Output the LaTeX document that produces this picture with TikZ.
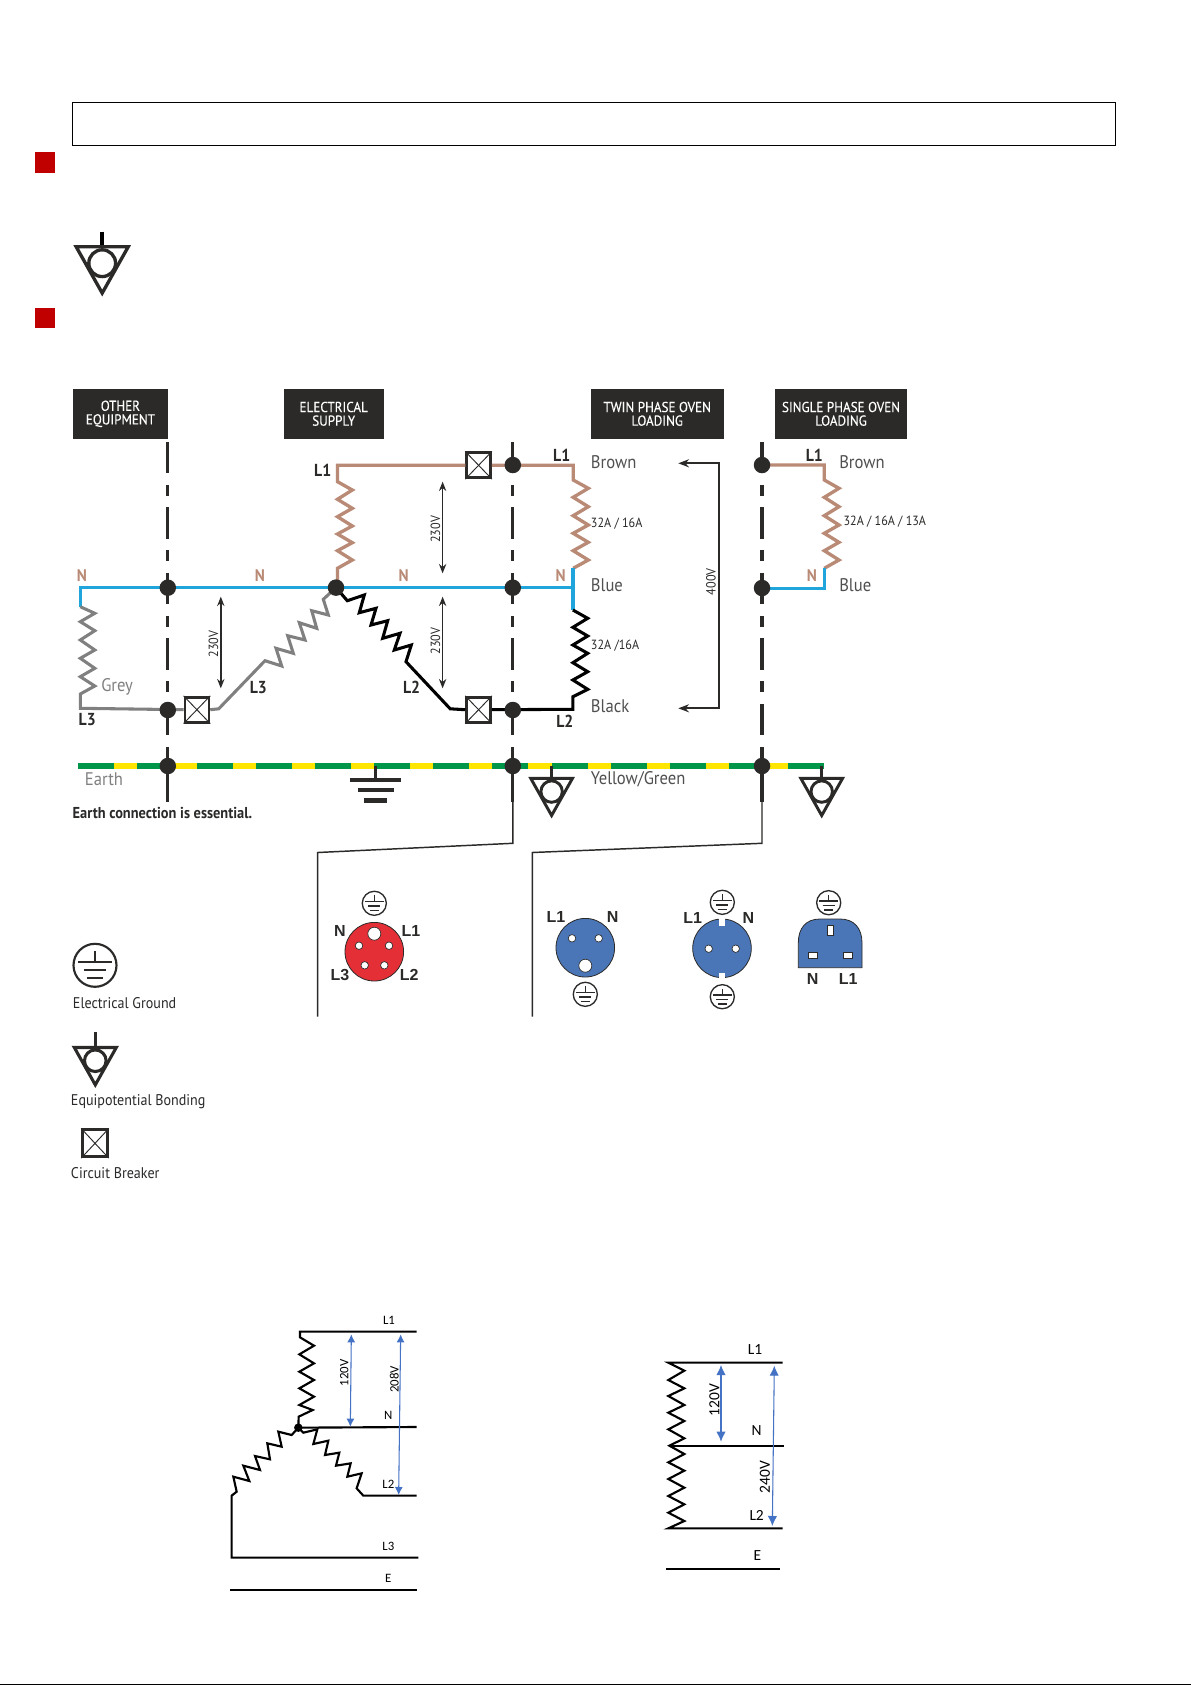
\documentclass[tikz,border=0pt]{standalone}
\usepackage{fontspec}
\usetikzlibrary{arrows.meta}
\setmainfont[FakeStretch=0.91]{PT Sans}
\newfontfamily\hdrf[FakeStretch=0.91,FakeBold=0.25]{PT Sans}
\newfontfamily\arialf{Liberation Sans}
\newfontfamily\calibf{Carlito}
\definecolor{dk}{HTML}{2B2A29}
\definecolor{wbrown}{HTML}{B98A75}
\definecolor{wblue}{HTML}{1FA5DC}
\definecolor{wgrey}{HTML}{808080}
\definecolor{wgreen}{HTML}{00964A}
\definecolor{wyellow}{HTML}{FFE600}
\definecolor{redsq}{HTML}{C00000}
\definecolor{socred}{HTML}{E52F37}
\definecolor{socblue}{HTML}{4A76B8}
\definecolor{arrblue}{HTML}{4472C4}
\definecolor{txtgrey}{HTML}{505050}
\def\u{0.75pt}
\newcommand{\fs}[1]{\fontsize{#1}{#1}\selectfont}
\tikzset{
  wire/.style={line width=2.5pt,line join=miter},
  zig/.style={line width=2.3pt,line join=miter},
  vdash/.style={line width=2.4pt,dk,dash pattern=on 23.4pt off 8.8pt on 8.3pt off 8.6pt},
  junction/.style={circle,fill=dk,inner sep=0pt,minimum size=16.5*\u},
  breakerbox/.style={draw=dk,fill=white,line width=2pt,inner sep=0pt,minimum width=24*\u,minimum height=25*\u},
  hdr/.style={fill=dk,text=white,inner sep=0pt,minimum width=#1*\u,minimum height=49.7*\u,align=center,font=\hdrf\fs{10.8},execute at begin node={\baselineskip=10.2pt}},
  lbl/.style={inner sep=0pt,dk,font=\fs{13}\bfseries},
  nlbl/.style={inner sep=0pt,wbrown,font=\fs{12.6}\bfseries},
  colr/.style={inner sep=0pt,txtgrey,anchor=west,font=\fs{13.7}},
  amp/.style={inner sep=0pt,dk,anchor=west,font=\fs{10}},
  volt/.style={inner sep=0pt,dk,rotate=90,font=\fs{10}},
  dbl/.style={dk,line width=1.1pt,{Stealth[length=7pt,width=5.5pt]}-{Stealth[length=7pt,width=5.5pt]}},
  thinl/.style={dk,line width=1.1pt,line join=miter},
  plug/.style={inner sep=0pt,dk,font=\arialf\fs{12}\bfseries},
  legend/.style={inner sep=0pt,anchor=west,dk,font=\fs{11.6}},
  hole/.style={circle,fill=white,draw=dk,line width=0.5pt,inner sep=0pt},
  slot/.style={fill=white,draw=dk,line width=0.5pt},
  bline/.style={line width=1.6pt,black},
  barrow/.style={arrblue,line width=0.8pt,{Latex[length=6pt,width=6pt]}-{Latex[length=6pt,width=6pt]}},
  ctext/.style={inner sep=0pt,font=\calibf\fs{#1},black},
}
% equipotential symbol: x, top of triangle, scale, line width
\newcommand{\eqsym}[4]{%
  \begin{scope}[shift={(#1,#2)},scale=#3]
    \draw[dk,line width=#4,line join=miter,miter limit=10] (-20,1.4) -- (20,1.4) -- (0,37) -- cycle;
    \draw[dk,line width=#4,fill=white] (0,14) circle (10.3);
  \end{scope}}
% electrical ground symbol in a circle
\newcommand{\gndc}[4]{%
  \begin{scope}[shift={(#1,#2)},scale=#3]
    \draw[dk,line width=#4,fill=white] (0,0) circle (21.5);
    \draw[dk,line width=#4] (0,-14) -- (0,-3);
    \draw[dk,line width=#4] (-16.7,-3) -- (16.7,-3);
    \draw[dk,line width=#4] (-11,4.7) -- (11,4.7);
    \draw[dk,line width=#4] (-8,13) -- (8,13);
  \end{scope}}
\begin{document}
\begin{tikzpicture}[x=0.75pt,y=-0.75pt]
\useasboundingbox (0,0) rectangle (1191,1685);
\fill[white] (0,0) rectangle (1191,1685);
\fill[black] (0,1683.6) rectangle (1191,1685);

% top frame and bullets
\node[draw=black,line width=1pt,minimum width=1043.5*\u,minimum height=43.4*\u,inner sep=0pt] (frame) at (594,124) {};
\fill[redsq] (34.8,152) rectangle (55.1,173);
\fill[redsq] (34.8,308) rectangle (55.1,327.7);
\coordinate (topstem) at (102.2,231.7);
\coordinate (toptri) at (102.2,246);
\draw[black,line width=2.6pt] (topstem) -- (toptri);
\eqsym{102.2}{245}{1.3}{2.5pt}

% headers
\node[hdr=94.5] (hother) at (120.4,413.8) {OTHER\\EQUIPMENT};
\node[hdr=100.2] (helec) at (333.7,413.8) {ELECTRICAL\\SUPPLY};
\node[hdr=133] (htwin) at (657.2,413.8) {TWIN PHASE OVEN\\LOADING};
\node[hdr=132.6] (hsing) at (841,413.8) {SINGLE PHASE OVEN\\LOADING};

% key coordinates
\coordinate (Atop) at (167.8,442);
\coordinate (Amid) at (167.8,748);
\coordinate (Aend) at (167.8,801.7);
\coordinate (Btop) at (512.8,442);
\coordinate (Bmid) at (512.8,748);
\coordinate (Bend) at (512.8,843.3);
\coordinate (Ctop) at (762,442);
\coordinate (Cmid) at (762,748);
\coordinate (Cend) at (762,843.3);
\coordinate (Bthick) at (512.8,801.7);
\coordinate (Cthick) at (762,801.7);
\coordinate (Bk1) at (317.7,852.5);
\coordinate (Bk2) at (317.7,1016.7);
\coordinate (Ck1) at (532.3,852.5);
\coordinate (Ck2) at (532.3,1016.7);

% vertical separators
\draw[vdash] (Atop) -- (Amid);
\draw[vdash] (Btop) -- (Bmid);
\draw[vdash] (Ctop) -- (Cmid);
\draw[dk,line width=2.4pt] (Amid) -- (Aend);
\draw[dk,line width=2.4pt] (Bmid) -- (Bthick);
\draw[dk,line width=2.4pt] (Cmid) -- (Cthick);
\draw[thinl] (Bthick) -- (Bend) -- (Bk1) -- (Bk2);
\draw[thinl] (Cthick) -- (Cend) -- (Ck1) -- (Ck2);

% earth
\coordinate (Estart) at (78.2,766);
\coordinate (Eend) at (824.3,766);
\draw[wyellow,line width=3.8pt] (Estart) -- (Eend);
\draw[wgreen,line width=3.8pt,dash pattern=on 27pt off 17.38pt] (Estart) -- (Eend);

% earth symbols
\coordinate (gs1) at (375.4,766);
\coordinate (gs2) at (375.4,780);
\draw[dk,line width=2.3pt] (gs1) -- (gs2);
\fill[dk] (349.6,777.6) rectangle (401.2,782.4);
\fill[dk] (357.5,787.6) rectangle (393.7,792.4);
\fill[dk] (364.4,798.3) rectangle (386.8,803.1);
\coordinate (es1) at (551.6,766);
\coordinate (es2) at (551.6,780);
\draw[dk,line width=2.2pt] (es1) -- (es2);
\eqsym{551.6}{777}{1.04}{2.2pt}
\coordinate (es3) at (821.7,766);
\coordinate (es4) at (821.7,780);
\draw[dk,line width=2.2pt] (es3) -- (es4);
\eqsym{821.7}{777}{1.04}{2.2pt}

% junction and breaker nodes
\node[breakerbox] (brk3) at (196.9,709.7) {};
\node[breakerbox] (brk1) at (478.6,465.3) {};
\node[breakerbox] (brk2) at (478.6,709.7) {};

\coordinate (star) at (336,587.6);

% brown L1 of supply, through breaker to load
\coordinate (L1a) at (337.5,465.3);
\coordinate (L1b) at (573.2,465.3);
\draw[wbrown,wire] (337.5,588) -- (337.5,568.3) -- (352.3,560) -- (337.5,550.7) -- (352.3,542.7) -- (337.5,534) -- (352.3,526) -- (337.5,516.7) -- (352.3,508.3) -- (337.5,499.3) -- (352.3,490) -- (337.5,481.7) -- (L1a) -- (brk1.west);
\draw[wbrown,wire] (brk1.east) -- (L1b) -- (573.2,480) -- (588.3,488.3) -- (573.2,497.3) -- (588.3,506.7) -- (573.2,515.7) -- (588.3,525) -- (573.2,533.3) -- (588.3,542.3) -- (573.2,550.7) -- (588.3,560) -- (573.2,568.3);

% neutral
\coordinate (Nleft) at (80.3,587.7);
\coordinate (Nright) at (572.9,587.7);
\draw[wblue,wire] (80.3,606.7) -- (Nleft) -- (Nright);
\draw[wblue,wire] (572.9,568.3) -- (572.9,610);

% grey L3
\draw[wgrey,zig] (Nleft |- 0,606.7) -- (94.8,613.3) -- (80.3,621.7) -- (94.8,630.7) -- (80.3,640) -- (94.8,650) -- (80.3,658.3) -- (94.8,668.3) -- (80.3,676.7) -- (94.8,686) -- (80.3,694) -- (80.3,708.3) -- (brk3.west);
\draw[wgrey,zig] (brk3.east) -- (218.7,708.8) -- (265,660.7)
  -- (281.7,666) -- (276,648.3) -- (293.3,653.3) -- (287.7,635.7) -- (305,640) -- (299.3,622.7) -- (316.7,628.3) -- (311.7,610.7) -- (328.3,615) -- (323.3,599.3) -- (star);

% black L2
\draw[black,zig] (star) -- (347.3,600.7) -- (364.3,595) -- (359.3,612.7) -- (376,608.3) -- (371,625) -- (387.7,620.7) -- (382.7,638.3) -- (400,633.3) -- (394.3,650) -- (411.3,645) -- (406,661.7) -- (450.2,708.8) -- (brk2.west);
\draw[black,zig] (brk2.east) -- (572.9,709.3) -- (572.9,696.7) -- (587.7,689.3) -- (572.9,680) -- (587.7,671.7) -- (572.9,662.7) -- (587.7,653.3) -- (572.9,645) -- (587.7,636) -- (572.9,627.3) -- (587.7,618.3) -- (572.9,610);

% breaker crosses
\foreach \b in {brk1,brk2,brk3} {
  \draw[dk,line width=0.7pt] (\b.north west) -- (\b.south east);
  \draw[dk,line width=0.7pt] (\b.north east) -- (\b.south west);
}

% single phase loop
\coordinate (S1) at (824.3,465);
\coordinate (S2) at (824.3,588.3);
\draw[wbrown,wire] (762,465) -- (S1) -- (824.3,480) -- (839,488.3) -- (824.3,497.3) -- (839,506.7) -- (824.3,515.7) -- (839,525) -- (824.3,533.3) -- (839,542.3) -- (824.3,550.7) -- (839,560) -- (824.3,568.3);
\draw[wblue,wire] (824.3,568.3) -- (S2) -- (762,588.3);

% dots
\node[junction] (dA1) at (167.8,587.7) {};
\node[junction] (dA2) at (167.8,710) {};
\node[junction] (dA3) at (167.8,766) {};
\node[junction] (dB0) at (512.8,465) {};
\node[junction] (dB1) at (512.8,587.7) {};
\node[junction] (dB2) at (512.8,710) {};
\node[junction] (dB3) at (512.8,766) {};
\node[junction] (dC0) at (762,465) {};
\node[junction] (dC1) at (762,588) {};
\node[junction] (dC3) at (762,766) {};
\node[junction] (dS) at (star) {};

% voltage arrows
\coordinate (va1) at (442.6,481.7); \coordinate (va2) at (442.6,573.3);
\coordinate (vb1) at (442.6,596.7); \coordinate (vb2) at (442.6,688.3);
\coordinate (vc1) at (220.8,596.7); \coordinate (vc2) at (220.8,688.3);
\draw[dbl] (va1) -- (va2);
\draw[dbl] (vb1) -- (vb2);
\draw[dbl] (vc1) -- (vc2);
\node[volt] (t230a) at (435.5,529.3) {230V};
\node[volt] (t230b) at (435.5,641) {230V};
\node[volt] (t230c) at (213.5,644) {230V};

% 400V bracket
\coordinate (b1) at (678.3,463.3);
\coordinate (b2) at (719.3,463.3);
\coordinate (b3) at (719.3,708.3);
\coordinate (b4) at (678.3,708.3);
\draw[dk,line width=1.7pt,line join=miter,{Stealth[length=8pt,width=6pt]}-{Stealth[length=8pt,width=6pt]}] (b1) -- (b2) -- (b3) -- (b4);
\node[volt] (t400) at (711,581.7) {400V};

% wire labels
\node[nlbl] (n1) at (82,576) {N};
\node[nlbl] (n2) at (260,576) {N};
\node[nlbl] (n3) at (403.7,576) {N};
\node[nlbl] (n4) at (560.7,575.7) {N};
\node[nlbl] (n5) at (812,575.7) {N};
\node[lbl] (l1a) at (322.7,470.7) {L1};
\node[lbl] (l1b) at (561.7,455.3) {L1};
\node[lbl] (l1c) at (814.3,455.3) {L1};
\node[lbl] (l3a) at (87.2,719.3) {L3};
\node[lbl] (l3b) at (258.3,687.3) {L3};
\node[lbl] (l2a) at (411.6,687.3) {L2};
\node[lbl] (l2b) at (564.8,721.7) {L2};
\node[inner sep=0pt,wgrey,font=\fs{13.7}] (tgrey) at (117.1,687.3) {Grey};
\node[inner sep=0pt,wgrey,font=\fs{13.7}] (tearth) at (104,779.3) {Earth};
\node[inner sep=0pt,anchor=west,dk,font=\fs{11.85}\bfseries] (tess) at (72.4,812.7) {Earth connection is essential.};
\node[colr] (c1) at (590.7,461.7) {Brown};
\node[colr] (c2) at (590.7,584.7) {Blue};
\node[colr] (c3) at (590.7,706) {Black};
\node[colr] (c4) at (590.7,779.3) {Yellow/Green};
\node[colr] (c5) at (839,461.7) {Brown};
\node[colr] (c6) at (839,584.7) {Blue};
\node[amp] (a1) at (590.7,523.3) {32A / 16A};
\node[amp] (a2) at (590.7,645.3) {32A /16A};
\node[amp] (a3) at (843.3,521.3) {32A / 16A / 13A};

% red socket
\draw[dk,line width=0.6pt,fill=socred] (374.3,951.7) circle (29.3);
\node[hole,minimum size=13*\u] (rh1) at (374.3,933.7) {};
\node[hole,minimum size=7.5*\u] (rh2) at (359,945.7) {};
\node[hole,minimum size=7.5*\u] (rh3) at (389,945.7) {};
\node[hole,minimum size=7.5*\u] (rh4) at (364.7,965.3) {};
\node[hole,minimum size=7.5*\u] (rh5) at (384.3,965.3) {};
\gndc{374.3}{903.3}{0.56}{1pt}
\node[plug] (rn) at (340,931) {N};
\node[plug] (rl1) at (411,931) {L1};
\node[plug] (rl3) at (340,975.3) {L3};
\node[plug] (rl2) at (409.3,975.3) {L2};

% blue socket 1
\draw[dk,line width=0.6pt,fill=socblue] (585.3,947.7) circle (29.3);
\node[hole,minimum size=7.5*\u] (b1a) at (572,938.3) {};
\node[hole,minimum size=7.5*\u] (b1b) at (598.7,938.3) {};
\node[hole,minimum size=13*\u] (b1c) at (585.3,965.7) {};
\gndc{585.3}{994.3}{0.56}{1pt}
\node[plug] (s1l) at (556,917.3) {L1};
\node[plug] (s1n) at (612.7,917.3) {N};

% blue socket 2
\draw[dk,line width=0.6pt,fill=socblue] (722,948.3) circle (29.3);
\fill[white] (719.3,917.5) rectangle (724.7,925.7);
\fill[white] (719.3,972.5) rectangle (724.7,980);
\node[hole,minimum size=7.5*\u] (b2a) at (708.7,948.7) {};
\node[hole,minimum size=7.5*\u] (b2b) at (735.7,948.7) {};
\gndc{722.3}{902.3}{0.56}{1pt}
\gndc{722.3}{996.7}{0.56}{1pt}
\node[plug] (s2l) at (692.7,918.3) {L1};
\node[plug] (s2n) at (748.3,918.3) {N};

% blue socket 3
\draw[dk,line width=0.6pt,fill=socblue] (798.3,967.7) -- (798.3,943) .. controls (798.3,928) and (806,919) .. (820,919) -- (840,919) .. controls (854,919) and (862,928) .. (862,943) -- (862,967.7) -- cycle;
\draw[slot] (827.7,925.7) rectangle (833,935);
\draw[slot] (808,952.7) rectangle (817.3,958.3);
\draw[slot] (843.3,952.7) rectangle (852.7,958.3);
\gndc{828.7}{902.7}{0.56}{1pt}
\node[plug] (s3n) at (812.7,979) {N};
\node[plug] (s3l) at (848.3,979) {L1};

% legend
\gndc{95}{965.3}{1}{1.6pt}
\node[legend] (lg1) at (72.7,1002.7) {Electrical Ground};
\coordinate (ls1) at (95.3,1032);
\coordinate (ls2) at (95.3,1047);
\draw[dk,line width=2.4pt] (ls1) -- (ls2);
\eqsym{95.3}{1046}{1.05}{2.3pt}
\node[legend] (lg2) at (70.7,1101.7) {Equipotential Bonding};
\node[breakerbox,minimum width=25*\u,minimum height=27*\u] (lbk) at (95,1143.3) {};
\draw[dk,line width=0.7pt] (lbk.north west) -- (lbk.south east);
\draw[dk,line width=0.7pt] (lbk.north east) -- (lbk.south west);
\node[legend] (lg3) at (70.7,1172.7) {Circuit Breaker};

% 208/120 V diagram
\begin{scope}[shift={(210,1300)},scale=1/3]
  \coordinate (pA) at (270,95);
  \coordinate (pB) at (620,95);
  \coordinate (pN) at (265,383);
  \coordinate (pN2) at (620,381);
  \coordinate (pL2) at (460,587);
  \coordinate (pL2e) at (620,587);
  \coordinate (pL3a) at (65,587);
  \coordinate (pL3b) at (65,773);
  \coordinate (pL3c) at (625,773);
  \coordinate (pEa) at (60,870);
  \coordinate (pEb) at (620,870);
  \draw[bline] (pB) -- (pA) -- (270,112) -- (312,137) -- (268,163) -- (312,190) -- (268,215) -- (312,240) -- (268,265) -- (312,290) -- (268,315) -- (308,330) -- (266,350) -- (pN);
  \draw[bline] (pN) -- (pN2);
  \draw[bline] (pN) -- (280,398) -- (322,388) -- (310,432) -- (355,422) -- (345,465) -- (388,458) -- (378,497) -- (422,490) -- (412,530) -- (455,520) -- (440,565) -- (pL2) -- (pL2e);
  \draw[bline] (pN) -- (245,405) -- (205,395) -- (215,440) -- (172,430) -- (180,478) -- (135,468) -- (150,510) -- (100,497) -- (118,543) -- (70,530) -- (80,575) -- (pL3a) -- (pL3b) -- (pL3c);
  \draw[bline] (pEa) -- (pEb);
  \node[circle,fill=black,inner sep=0pt,minimum size=8.5*\u] (pdot) at (pN) {};
  \coordinate (ar1a) at (424,103); \coordinate (ar1b) at (421,380);
  \coordinate (ar2a) at (572,103); \coordinate (ar2b) at (566,585);
  \draw[barrow] (ar1a) -- (ar1b);
  \draw[barrow] (ar2a) -- (ar2b);
  \node[ctext=9.6] (q1) at (537,60) {L1};
  \node[ctext=9.6] (q2) at (535,345) {N};
  \node[ctext=9.6] (q3) at (535,552) {L2};
  \node[ctext=9.6] (q4) at (535,738) {L3};
  \node[ctext=9.6] (q5) at (535,835) {E};
  \node[ctext=9.6,rotate=90] (q6) at (403,218) {120V};
  \node[ctext=9.6,rotate=90] (q7) at (553,238) {208V};
\end{scope}

% 240/120 V diagram
\begin{scope}[shift={(650,1320)},scale=1/3]
  \coordinate (rA) at (55,128);
  \coordinate (rB) at (398,128);
  \coordinate (rN) at (58,377);
  \coordinate (rN2) at (402,377);
  \coordinate (rL) at (55,625);
  \coordinate (rL2) at (398,625);
  \coordinate (rE) at (48,748);
  \coordinate (rE2) at (390,748);
  \draw[bline] (rB) -- (rA) -- (103,152) -- (55,180) -- (103,205) -- (55,228) -- (103,255) -- (55,278) -- (103,303) -- (55,328) -- (103,355) -- (rN) -- (103,402) -- (55,427) -- (103,452) -- (55,477) -- (103,503) -- (55,528) -- (103,553) -- (55,578) -- (103,603) -- (rL) -- (rL2);
  \draw[bline] (rN) -- (rN2);
  \draw[bline] (rE) -- (rE2);
  \coordinate (t1a) at (213,135); \coordinate (t1b) at (213,365);
  \coordinate (t2a) at (373,137); \coordinate (t2b) at (367,618);
  \draw[barrow,{Latex[length=7.5pt,width=7pt]}-{Latex[length=7.5pt,width=7pt]}] (t1a) -- (t1b);
  \draw[barrow,{Latex[length=7.5pt,width=7pt]}-{Latex[length=7.5pt,width=7pt]}] (t2a) -- (t2b);
  \node[ctext=11.6] (u1) at (315,88) {L1};
  \node[ctext=11.6] (u2) at (320,333) {N};
  \node[ctext=11.6] (u3) at (320,585) {L2};
  \node[ctext=11.6] (u4) at (322,707) {E};
  \node[ctext=11.6,rotate=90] (u5) at (193,240) {120V};
  \node[ctext=11.6,rotate=90] (u6) at (345,472) {240V};
\end{scope}
\end{tikzpicture}
\end{document}
